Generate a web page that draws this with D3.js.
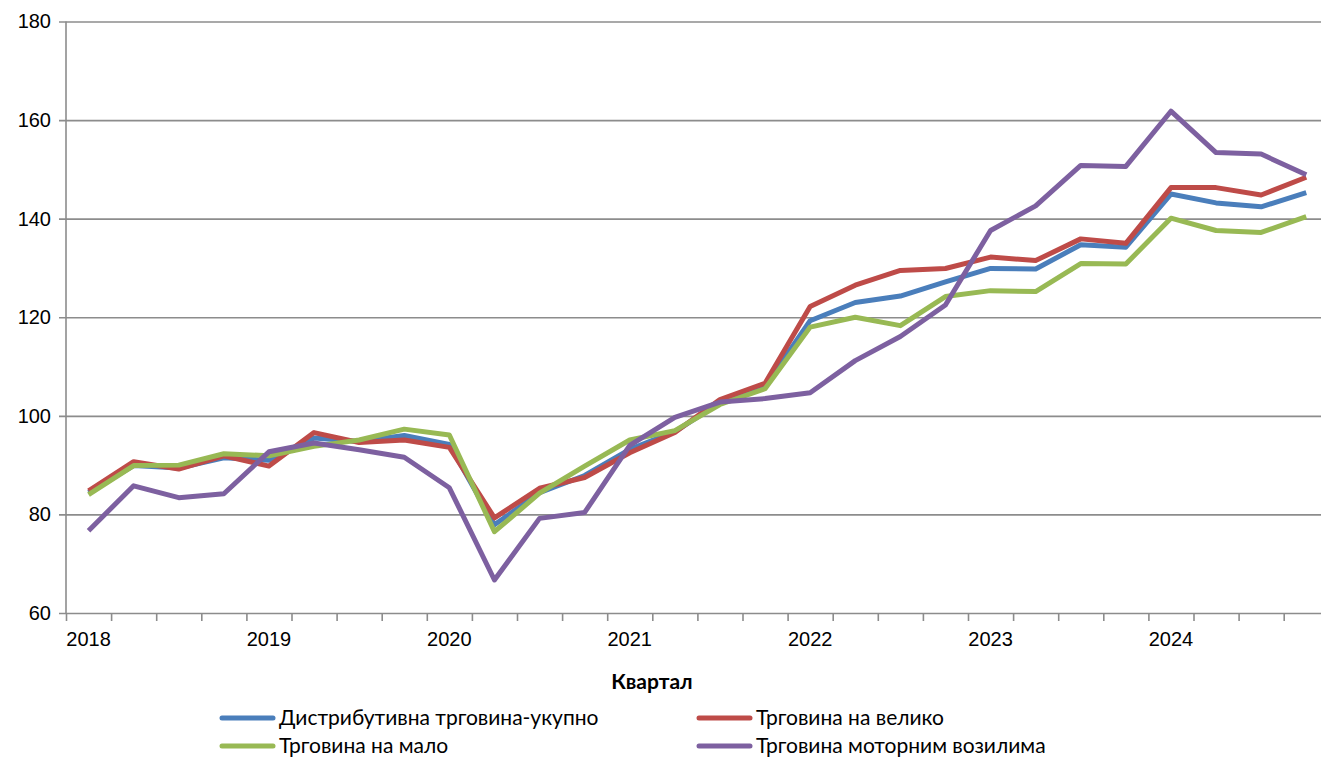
<!DOCTYPE html>
<html>
<head>
<meta charset="utf-8">
<style>
    body { margin: 0; background: #fff; }
    svg { display: block; font-family: Lato, "Open Sans", sans-serif; }
</style>
</head>
<body>
<svg width="1321" height="760"></svg>
<script src="https://cdnjs.cloudflare.com/ajax/libs/d3/7.8.5/d3.min.js"></script>
<script>
    const years = ["2018", "2019", "2020", "2021", "2022", "2023", "2024"];
    const quarters = ["Q1", "Q2", "Q3", "Q4"];
    const categories = years.flatMap(y => quarters.map(q => y + "-" + q));

    const seriesNames = ["Дистрибутивна трговина-укупно", "Трговина на велико", "Трговина на мало", "Трговина моторним возилима"];
    const seriesColors = ["#4a7ebb", "#be4b48", "#98b954", "#7d60a0"];

    const distributive = [84.4, 89.9, 89.4, 91.5, 91.0, 95.5, 94.8, 96.0, 94.2, 77.9, 84.4, 87.9, 93.2, 96.8, 102.7, 106.0,
        119.3, 123.0, 124.3, 127.2, 129.9, 129.8, 134.7, 134.2, 145.0, 143.2, 142.4, 145.3];
    const wholesale = [84.8, 90.7, 89.2, 91.9, 89.8, 96.6, 94.6, 95.1, 93.6, 79.3, 85.3, 87.5, 92.5, 96.6, 103.3, 106.6,
        122.2, 126.5, 129.5, 129.9, 132.2, 131.5, 135.9, 135.0, 146.3, 146.3, 144.8, 148.4];
    const retail = [84.0, 89.9, 90.0, 92.3, 91.9, 93.8, 95.1, 97.3, 96.1, 76.5, 84.3, 89.8, 95.1, 97.0, 102.3, 105.5,
        118.0, 120.0, 118.3, 124.2, 125.4, 125.2, 130.9, 130.8, 140.1, 137.6, 137.2, 140.4];
    const motorVehicles = [76.7, 85.8, 83.4, 84.2, 92.7, 94.5, 93.1, 91.6, 85.4, 66.7, 79.2, 80.4, 94.0, 99.7, 102.8, 103.5,
        104.7, 111.2, 116.1, 122.5, 137.6, 142.6, 150.8, 150.6, 161.8, 153.4, 153.1, 148.9];

    const yTicks = [60, 80, 100, 120, 140, 160, 180];
    const xAxisTitle = "Квартал";

    const series = [distributive, wholesale, retail, motorVehicles];

    const svg = d3.select("svg");
    const plotLeft = 66, plotTop = 21.5, plotBottom = 613, band = 45.1;
    const plotRight = plotLeft + band * categories.length;

    const x = d3.scaleBand().domain(categories).range([plotLeft, plotRight]);
    const xEdge = d3.scaleLinear().domain([0, categories.length]).range([plotLeft, plotRight]);
    const y = d3.scaleLinear().domain([60, 180]).range([plotBottom, plotTop]);

    const gridColor = "#8c8c8c";

    // horizontal gridlines + y axis labels
    const yAxis = svg.append("g")
        .attr("transform", "translate(" + plotLeft + ",0)")
        .call(d3.axisLeft(y).tickValues(yTicks).tickSize(-(plotRight - plotLeft)).tickSizeOuter(0).tickPadding(15));
    yAxis.select(".domain").remove();
    yAxis.selectAll(".tick line").attr("stroke", gridColor).attr("stroke-width", 1.6).attr("x1", -7);
    yAxis.selectAll(".tick text").attr("font-size", 20).attr("fill", "#000");

    // vertical axis line
    svg.append("line")
        .attr("x1", plotLeft).attr("x2", plotLeft)
        .attr("y1", plotTop).attr("y2", plotBottom)
        .attr("stroke", gridColor).attr("stroke-width", 1.6);

    // tick marks between categories
    const xTicks = svg.append("g")
        .attr("transform", "translate(0," + plotBottom + ")")
        .call(d3.axisBottom(xEdge).tickValues(d3.range(categories.length + 1)).tickFormat("").tickSize(8).tickSizeOuter(0));
    xTicks.select(".domain").remove();
    xTicks.selectAll(".tick line").attr("stroke", gridColor).attr("stroke-width", 1.6);

    // year labels on the first quarter
    const xLabels = svg.append("g")
        .attr("transform", "translate(0," + plotBottom + ")")
        .call(d3.axisBottom(x).tickValues(categories.filter(c => c.endsWith("Q1")))
            .tickFormat(c => c.slice(0, 4)).tickSize(0).tickPadding(19));
    xLabels.select(".domain").remove();
    xLabels.selectAll(".tick text").attr("font-size", 20).attr("fill", "#000");

    svg.append("text")
        .attr("x", 652).attr("y", 689)
        .attr("text-anchor", "middle")
        .attr("font-size", 21).attr("font-weight", "bold")
        .text(xAxisTitle);

    const line = d3.line()
        .x((d, i) => x(categories[i]) + x.bandwidth() / 2)
        .y(d => y(d));

    series.forEach(function(s, k) {
        svg.append("path")
            .datum(s)
            .attr("d", line)
            .attr("fill", "none")
            .attr("stroke", seriesColors[k])
            .attr("stroke-width", 5)
            .attr("stroke-linejoin", "round");
    });

    // legend
    const legendPos = [[220, 718], [697, 718], [220, 746], [697, 746]];
    const legend = svg.selectAll(".legend")
        .data(seriesNames)
        .enter().append("g")
        .attr("class", "legend")
        .attr("transform", (d, i) => "translate(" + legendPos[i][0] + "," + legendPos[i][1] + ")");

    legend.append("line")
        .attr("x1", 2).attr("x2", 53)
        .attr("stroke", (d, i) => seriesColors[i])
        .attr("stroke-width", 5)
        .attr("stroke-linecap", "round");

    legend.append("text")
        .attr("x", 59)
        .attr("dy", "0.35em")
        .attr("font-size", 21)
        .text(d => d);
</script>
</body>
</html>
